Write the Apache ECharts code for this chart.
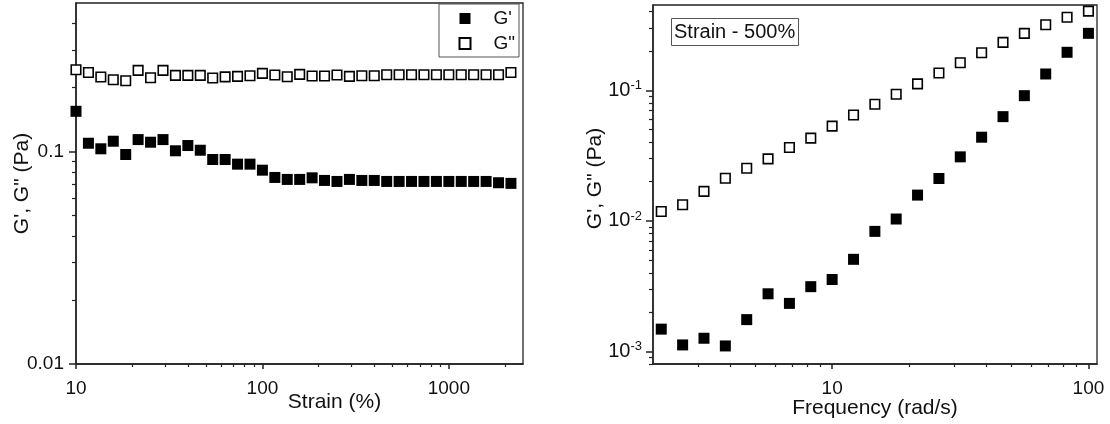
<!DOCTYPE html>
<html><head><meta charset="utf-8">
<script src="https://cdn.jsdelivr.net/npm/echarts@6/dist/echarts.min.js"></script>
<style>html,body{margin:0;padding:0;background:#fff}#c{width:1110px;height:424px}</style>
</head><body><div id="c"></div>
<script>
// ---- Left panel: strain sweep ----
const strain = [10, 11.66, 13.59, 15.85, 18.48, 21.54, 25.12, 29.29, 34.15, 39.81, 46.42, 54.12, 63.10, 73.56, 85.77,
  100, 116.6, 135.9, 158.5, 184.8, 215.4, 251.2, 292.9, 341.5, 398.1, 464.2, 541.2, 631.0, 735.6, 857.7,
  1000, 1166, 1359, 1585, 1848, 2154];
const strainGp = [0.1546, 0.1094, 0.1030, 0.1118, 0.0968, 0.1138, 0.1106, 0.1138, 0.1008, 0.1067, 0.1014, 0.0917, 0.0917, 0.0872, 0.0872,
  0.0817, 0.0755, 0.0739, 0.0739, 0.0752, 0.0731, 0.0723, 0.0739, 0.0731, 0.0731, 0.0723, 0.0723, 0.0723, 0.0723, 0.0723,
  0.0723, 0.0723, 0.0723, 0.0723, 0.0713, 0.0708];
const strainGpp = [0.2427, 0.2356, 0.2242, 0.2178, 0.2154, 0.2408, 0.2225, 0.2408, 0.2282, 0.2282, 0.2282, 0.2218, 0.2246, 0.2257, 0.2274,
  0.2331, 0.2292, 0.2249, 0.2306, 0.2266, 0.2266, 0.2292, 0.2257, 0.2274, 0.2274, 0.2298, 0.2298, 0.2298, 0.2298, 0.2298,
  0.2298, 0.2298, 0.2298, 0.2298, 0.2298, 0.2356];
const strainMajor = [10, 100, 1000];
const strainMinor = [20, 30, 40, 50, 60, 70, 80, 90, 200, 300, 400, 500, 600, 700, 800, 900, 2000];
const leftYMajor = [0.01, 0.1];
const leftYMinor = [0.02, 0.03, 0.04, 0.05, 0.06, 0.07, 0.08, 0.09, 0.2, 0.3, 0.4];

// ---- Right panel: frequency sweep ----
const freq = [2.154, 2.610, 3.162, 3.831, 4.642, 5.623, 6.813, 8.254, 10, 12.12, 14.68, 17.78, 21.54, 26.10, 31.62, 38.31, 46.42, 56.23, 68.13, 82.54, 100];
const freqGp = [0.00148, 0.00112, 0.00126, 0.00110, 0.00175, 0.00276, 0.00233, 0.00313, 0.00355, 0.00507, 0.00830, 0.01032, 0.01574, 0.0211, 0.0309, 0.0437, 0.0628, 0.0909, 0.1333, 0.1954, 0.273];
const freqGpp = [0.0118, 0.01327, 0.0168, 0.0212, 0.0253, 0.0298, 0.0364, 0.0430, 0.0531, 0.0647, 0.0782, 0.0932, 0.112, 0.1355, 0.1625, 0.1937, 0.2328, 0.2729, 0.3176, 0.363, 0.404];
const freqMajor = [10, 100];
const freqMinor = [3, 4, 5, 6, 7, 8, 9, 20, 30, 40, 50, 60, 70, 80, 90];
const rightYMajor = [0.001, 0.01, 0.1];
const rightYMinor = [0.0008, 0.0009, 0.002, 0.003, 0.004, 0.005, 0.006, 0.007, 0.008, 0.009,
  0.02, 0.03, 0.04, 0.05, 0.06, 0.07, 0.08, 0.09, 0.2, 0.3, 0.4];

const FONT = "'Liberation Sans', Arial, sans-serif";
const TXT = '#111';
const LINE = '#222';

function pairs(xs, ys) { return xs.map((x, i) => [x, ys[i]]); }

function axisPair(dim, gridIndex, min, max, major, minor, opt) {
  const isX = dim === 'x';
  const main = {
    type: 'log', logBase: 10, gridIndex, min, max,
    position: isX ? 'bottom' : 'left',
    axisLine: { show: true, lineStyle: { color: LINE, width: 1.5 } },
    axisTick: { show: true, inside: false, length: isX ? 5 : 7, customValues: major, lineStyle: { color: LINE, width: 1.5 } },
    axisLabel: Object.assign({ customValues: major, color: TXT, fontFamily: FONT, fontSize: 19, margin: isX ? 15 : 12 }, opt.label || {}),
    splitLine: { show: false },
    name: opt.name, nameLocation: 'middle', nameGap: opt.nameGap, nameMoveOverlap: false,
    nameRotate: isX ? 0 : 90,
    nameTextStyle: { color: TXT, fontFamily: FONT, fontSize: 21, padding: opt.namePad || 0 }
  };
  const minorAxis = {
    type: 'log', logBase: 10, gridIndex, min, max,
    position: isX ? 'bottom' : 'left',
    axisLine: { show: false },
    axisTick: { show: true, inside: false, length: isX ? 3 : 4, customValues: minor, lineStyle: { color: LINE, width: 1.2 } },
    axisLabel: { show: false },
    splitLine: { show: false }
  };
  return [main, minorAxis];
}

const fmtPlain = v => String(v);
const fmtPow = v => '{b|10}{s|' + Math.round(Math.log10(v)) + '}';

const xAxes = [].concat(
  axisPair('x', 0, 10, 2500, strainMajor, strainMinor, { name: 'Strain (%)', nameGap: 28, namePad: [0, 0, 0, 70], label: { formatter: fmtPlain } }),
  axisPair('x', 1, 2, 108, freqMajor, freqMinor, { name: 'Frequency (rad/s)', nameGap: 34, label: { formatter: fmtPlain } })
);
const yAxes = [].concat(
  axisPair('y', 0, 0.01, 0.5, leftYMajor, leftYMinor, { name: 'G\', G" (Pa)', nameGap: 43, label: { formatter: fmtPlain } }),
  axisPair('y', 1, 0.0008, 0.45, rightYMajor, rightYMinor, {
    name: 'G\', G" (Pa)', nameGap: 47, namePad: [0, 0, 0, 12],
    label: {
      formatter: fmtPow, margin: 11,
      rich: {
        b: { fontSize: 20, fontFamily: FONT, color: TXT, lineHeight: 22 },
        s: { fontSize: 13, fontFamily: FONT, color: TXT, lineHeight: 14, verticalAlign: 'top' }
      }
    }
  })
);

const filled = { color: '#000', borderColor: '#000', borderWidth: 0, opacity: 1 };
const hollow = { color: '#fff', borderColor: '#000', borderWidth: 1.6, opacity: 1 };

const option = {
  animation: false,
  backgroundColor: '#fff',
  grid: [
    { left: 76, top: 3, width: 447, height: 361, show: true, borderColor: LINE, borderWidth: 1.3, backgroundColor: 'transparent' },
    { left: 653, top: 5, width: 444, height: 359, show: true, borderColor: LINE, borderWidth: 1.3, backgroundColor: 'transparent' }
  ],
  title: {
    text: 'Strain - 500%', left: 671, top: 18, padding: [3, 4, 3, 3],
    borderColor: '#555', borderWidth: 1,
    textStyle: { fontFamily: FONT, fontSize: 20, fontWeight: 'normal', color: TXT, lineHeight: 22 }
  },
  legend: {
    orient: 'vertical', left: 439, top: 4,
    padding: [4.5, 4, 3.5, 19.5],
    borderColor: '#555', borderWidth: 1, backgroundColor: '#fff',
    itemWidth: 11, itemHeight: 11, itemGap: 5,
    icon: 'rect',
    data: ['G\'', 'G"'],
    textStyle: { fontFamily: FONT, fontSize: 19, color: TXT, lineHeight: 20, padding: [0, 0, 0, 18] }
  },
  xAxis: xAxes,
  yAxis: yAxes,
  series: [
    { name: 'G\'', type: 'scatter', xAxisIndex: 0, yAxisIndex: 0, symbol: 'rect', symbolSize: 11, itemStyle: filled, data: pairs(strain, strainGp) },
    { name: 'G"', type: 'scatter', xAxisIndex: 0, yAxisIndex: 0, symbol: 'rect', symbolSize: 9.5, itemStyle: hollow, data: pairs(strain, strainGpp) },
    { name: 'G\'', type: 'scatter', xAxisIndex: 2, yAxisIndex: 2, symbol: 'rect', symbolSize: 11, itemStyle: filled, data: pairs(freq, freqGp) },
    { name: 'G"', type: 'scatter', xAxisIndex: 2, yAxisIndex: 2, symbol: 'rect', symbolSize: 9.5, itemStyle: hollow, data: pairs(freq, freqGpp) }
  ]
};

const chart = echarts.init(document.getElementById('c'), null, { renderer: 'canvas', width: 1110, height: 424 });
chart.setOption(option);
</script>
</body></html>
